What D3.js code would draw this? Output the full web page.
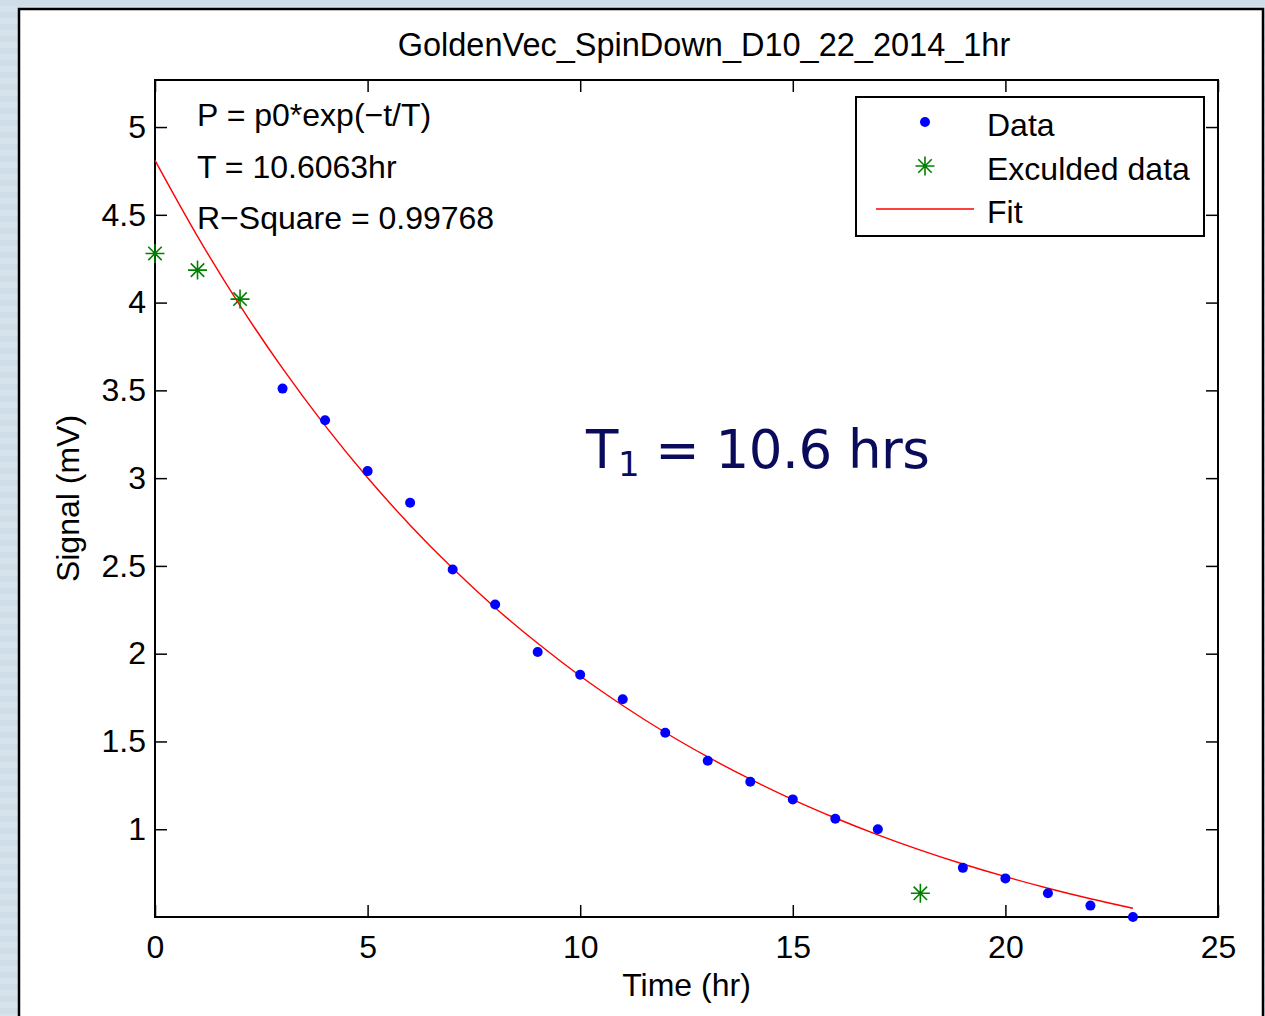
<!DOCTYPE html>
<html>
<head>
<meta charset="utf-8">
<script src="https://cdn.jsdelivr.net/npm/d3@7"></script>
<style>
  html, body { margin: 0; padding: 0; background: #d3e0ea; }
  svg { display: block; }
</style>
</head>
<body>
<div id="chart"></div>
<script>
// values
const dataHours = [3, 4, 5, 6, 7, 8, 9, 10, 11, 12, 13, 14, 15, 16, 17, 19, 20, 21, 22, 23];
const dataSignal = [3.51, 3.33, 3.04, 2.86, 2.48, 2.28, 2.01, 1.88, 1.74, 1.55, 1.39, 1.27, 1.17, 1.06, 1.0, 0.78, 0.72, 0.635, 0.565, 0.5];
const excludedHours = [0, 1, 2, 18];
const excludedSignal = [4.28, 4.185, 4.02, 0.635];
const fitHours = [0, 1, 2, 3, 4, 5, 6, 7, 8, 9, 10, 11, 12, 13, 14, 15, 16, 17, 18, 19, 20, 21, 22, 23];
const fitSignal = [4.81, 4.377, 3.983, 3.625, 3.299, 3.002, 2.732, 2.486, 2.262, 2.059, 1.873, 1.705, 1.551, 1.412, 1.285, 1.169, 1.064, 0.968, 0.881, 0.802, 0.730, 0.664, 0.604, 0.550];
const xTicks = [0, 5, 10, 15, 20, 25];
const yTicks = [1, 1.5, 2, 2.5, 3, 3.5, 4, 4.5, 5];
const legendLabels = ['Data', 'Exculded data', 'Fit'];
const fitLines = ['P = p0*exp(\u2212t/T)', 'T = 10.6063hr', 'R\u2212Square = 0.99768'];

const WIDTH = 1265, HEIGHT = 1016;
const MARGIN = { top: 80, right: 47, bottom: 99, left: 155 };
const PLOT_W = WIDTH - MARGIN.left - MARGIN.right;
const PLOT_H = HEIGHT - MARGIN.top - MARGIN.bottom;
const FONT = 'Liberation Sans, Arial, Helvetica, sans-serif';
const FONT_SIZE = 32;
const TICK = 12;

const svg = d3.select('#chart').append('svg')
  .attr('width', WIDTH)
  .attr('height', HEIGHT);

// striped backdrop + white figure panel
const stripes = svg.append('g');
d3.range(0, HEIGHT, 6).forEach((y, i) => {
  stripes.append('rect')
    .attr('x', 0).attr('y', y).attr('width', WIDTH).attr('height', 6)
    .attr('fill', i % 2 ? '#d6e3ed' : '#cfdde8');
});
svg.append('rect')
  .attr('x', 19).attr('y', 9).attr('width', 1244).attr('height', HEIGHT + 10)
  .attr('fill', 'white').attr('stroke', 'black').attr('stroke-width', 2.5);

const g = svg.append('g')
  .attr('transform', `translate(${MARGIN.left},${MARGIN.top})`);

const x = d3.scaleLinear().domain([0, 25]).range([0, PLOT_W]);
const y = d3.scaleLinear().domain([0.5, 5.268]).range([PLOT_H, 0]);

// axes with inward ticks on all four sides
const styleAxis = sel => {
  sel.select('.domain').remove();
  sel.selectAll('line').attr('stroke', 'black').attr('stroke-width', 1.5);
  sel.selectAll('text').attr('font-family', FONT).attr('font-size', FONT_SIZE).attr('fill', 'black');
};

g.append('g')
  .attr('transform', `translate(0,${PLOT_H})`)
  .call(d3.axisBottom(x).tickValues(xTicks).tickSize(-TICK).tickPadding(18).tickFormat(d3.format('d')))
  .call(styleAxis);
g.append('g')
  .call(d3.axisTop(x).tickValues(xTicks).tickSize(-TICK).tickFormat(''))
  .call(styleAxis);
g.append('g')
  .call(d3.axisLeft(y).tickValues(yTicks).tickSize(-TICK).tickPadding(9).tickFormat(d3.format('~g')))
  .call(styleAxis);
g.append('g')
  .attr('transform', `translate(${PLOT_W},0)`)
  .call(d3.axisRight(y).tickValues(yTicks).tickSize(-TICK).tickFormat(''))
  .call(styleAxis);

g.append('rect')
  .attr('width', PLOT_W).attr('height', PLOT_H)
  .attr('fill', 'none').attr('stroke', 'black').attr('stroke-width', 2);

// title and axis labels
svg.append('text')
  .attr('x', 704).attr('y', 56)
  .attr('text-anchor', 'middle')
  .attr('font-family', FONT).attr('font-size', 32.5)
  .text('GoldenVec_SpinDown_D10_22_2014_1hr');

svg.append('text')
  .attr('x', MARGIN.left + PLOT_W / 2).attr('y', 996)
  .attr('text-anchor', 'middle')
  .attr('font-family', FONT).attr('font-size', FONT_SIZE)
  .text('Time (hr)');

svg.append('text')
  .attr('transform', `translate(79,${MARGIN.top + PLOT_H / 2}) rotate(-90)`)
  .attr('text-anchor', 'middle')
  .attr('font-family', FONT).attr('font-size', FONT_SIZE)
  .text('Signal (mV)');

// fit curve
const line = d3.line()
  .x((d, i) => x(fitHours[i]))
  .y(d => y(d))
  .curve(d3.curveMonotoneX);

g.append('path')
  .datum(fitSignal)
  .attr('d', line)
  .attr('fill', 'none')
  .attr('stroke', '#ff0000')
  .attr('stroke-width', 1.4);

// data points
g.selectAll('circle.data')
  .data(dataSignal)
  .enter()
  .append('circle')
    .attr('class', 'data')
    .attr('cx', (d, i) => x(dataHours[i]))
    .attr('cy', d => y(d))
    .attr('r', 5)
    .attr('fill', '#0000ff');

// excluded points as 8-arm asterisks
const starPath = (r) => {
  const k = r * Math.SQRT1_2;
  return `M${-r},0H${r}M0,${-r}V${r}M${-k},${-k}L${k},${k}M${-k},${k}L${k},${-k}`;
};

g.selectAll('path.excluded')
  .data(excludedSignal)
  .enter()
  .append('path')
    .attr('class', 'excluded')
    .attr('transform', (d, i) => `translate(${x(excludedHours[i])},${y(d)})`)
    .attr('d', starPath(9.5))
    .attr('stroke', '#008000')
    .attr('stroke-width', 1.6)
    .attr('fill', 'none');

// fit annotation
g.selectAll('text.fit')
  .data(fitLines)
  .enter()
  .append('text')
    .attr('class', 'fit')
    .attr('x', 42)
    .attr('y', (d, i) => 46 + i * 51.5)
    .attr('font-family', FONT).attr('font-size', FONT_SIZE)
    .text(d => d);

// big T1 label
const big = svg.append('text')
  .attr('x', 586).attr('y', 468)
  .attr('font-family', '"Comic Sans MS", "DejaVu Sans", sans-serif')
  .attr('font-size', 53)
  .attr('letter-spacing', -0.5)
  .attr('fill', '#0b0b5c');
big.append('tspan').text('T');
big.append('tspan').attr('font-size', 34).attr('dy', 8).text('1');
big.append('tspan').attr('dy', -8).text(' = 10.6 hrs');

// legend
const legend = svg.append('g').attr('transform', 'translate(856,97)');
legend.append('rect')
  .attr('width', 348).attr('height', 139)
  .attr('fill', 'white').attr('stroke', 'black').attr('stroke-width', 2);

legend.append('circle')
  .attr('cx', 69).attr('cy', 25).attr('r', 5).attr('fill', '#0000ff');
legend.append('path')
  .attr('transform', 'translate(69,69)')
  .attr('d', starPath(9.5))
  .attr('stroke', '#008000').attr('stroke-width', 1.6).attr('fill', 'none');
legend.append('line')
  .attr('x1', 20).attr('x2', 118).attr('y1', 112).attr('y2', 112)
  .attr('stroke', '#ff0000').attr('stroke-width', 1.4);

legend.selectAll('text')
  .data(legendLabels)
  .enter()
  .append('text')
    .attr('x', 131)
    .attr('y', (d, i) => 39 + i * 43.5)
    .attr('font-family', FONT).attr('font-size', FONT_SIZE)
    .text(d => d);
</script>
</body>
</html>
